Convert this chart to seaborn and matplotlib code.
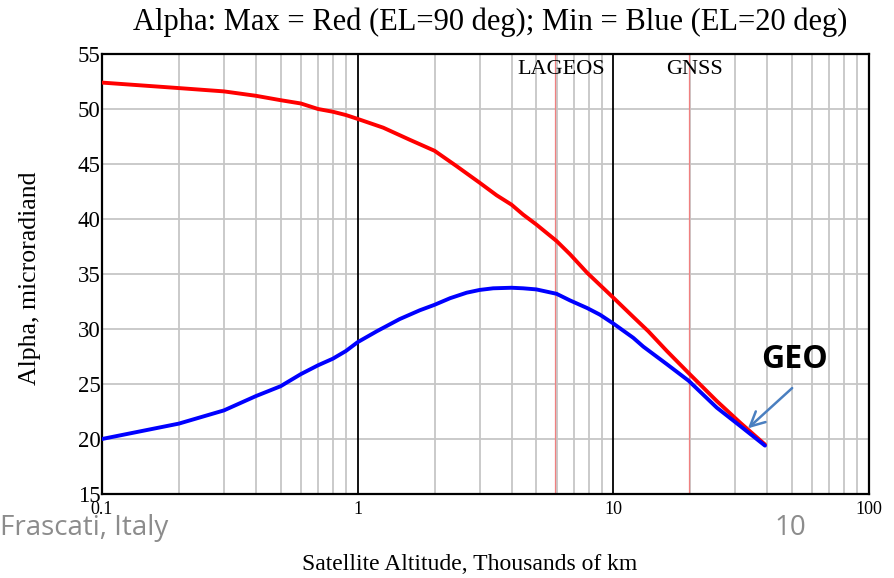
import numpy as np
import pandas as pd
import seaborn as sns
import matplotlib.pyplot as plt
from matplotlib.ticker import LogLocator, NullFormatter, FixedLocator, FixedFormatter

# altitude in thousands of km
alt_red = [0.1, 0.2, 0.3, 0.4, 0.5, 0.6, 0.7, 0.8, 0.9, 1, 1.26, 1.6, 2, 2.44, 3, 3.5, 4, 4.44, 5, 6,
           6.77, 7.91, 8.87, 10, 11.97, 13.7, 16.2, 19.7, 25.4, 31.3, 39.2]
alpha_max = [52.4, 51.9, 51.6, 51.2, 50.8, 50.5, 50.0, 49.75, 49.45, 49.1, 48.3, 47.2, 46.2, 44.8, 43.3, 42.15, 41.3, 40.4, 39.5, 38.0,
             36.8, 35.1, 34.0, 32.85, 31.1, 29.8, 28.0, 26.0, 23.45, 21.5, 19.5]
alt_blue = [0.1, 0.2, 0.3, 0.4, 0.5, 0.6, 0.7, 0.8, 0.9, 1, 1.19, 1.46, 1.75, 2, 2.3, 2.67, 3, 3.39, 4, 4.44, 5, 6,
            6.77, 7.91, 8.87, 10, 11.97, 13.1, 16.2, 19.7, 25.4, 31.3, 39.2]
alpha_min = [20.0, 21.4, 22.6, 23.9, 24.8, 25.9, 26.7, 27.3, 28.0, 28.8, 29.8, 30.9, 31.7, 32.2, 32.8, 33.3, 33.55, 33.7, 33.75, 33.7, 33.6, 33.2,
             32.6, 31.9, 31.3, 30.5, 29.2, 28.4, 26.8, 25.3, 22.85, 21.2, 19.4]

markers = {"LAGEOS": 5.9, "GNSS": 19.8}
geo_alt = 33.0
geo_alpha = 20.8

df = pd.concat([
    pd.DataFrame({"alt": alt_red, "alpha": alpha_max, "curve": "max"}),
    pd.DataFrame({"alt": alt_blue, "alpha": alpha_min, "curve": "min"}),
])

sns.set_theme(style="white")
plt.rcParams['font.family'] = ['Liberation Serif', 'DejaVu Serif']
plt.rcParams.update({"text.color": "black", "axes.labelcolor": "black",
                     "xtick.color": "black", "ytick.color": "black"})

fig = plt.figure(figsize=(8.94, 5.78), dpi=100)
ax = fig.add_axes([0.114, 0.1453, 0.858, 0.7613])

ax.set_xscale("log")
ax.set_xlim(0.1, 100)
ax.set_ylim(15, 55)

# grid
ax.xaxis.set_major_locator(FixedLocator([0.1, 1, 10, 100]))
ax.xaxis.set_minor_locator(LogLocator(base=10, subs=np.arange(2, 10)))
ax.xaxis.set_minor_formatter(NullFormatter())
ax.grid(which="minor", axis="x", color="#c6c6c6", lw=1.3)
ax.set_yticks(range(15, 56, 5))
ax.grid(which="major", axis="y", color="#c6c6c6", lw=1.3)
for v in [1, 10]:
    ax.axvline(v, color="black", lw=1.3, zorder=1)
for name, v in markers.items():
    ax.axvline(v, color="#f08080", lw=0.9, zorder=1)

sns.lineplot(data=df, x="alt", y="alpha", hue="curve", palette={"max": "#ff0000", "min": "#0000ff"},
             lw=2.8, legend=False, ax=ax, zorder=3)

ax.text(6.24, 53.6, "LAGEOS", ha="center", va="center", fontsize=16)
ax.text(20.8, 53.6, "GNSS", ha="center", va="center", fontsize=16)

ax.annotate("", xy=(geo_alt, geo_alpha), xytext=(51, 24.8),
            arrowprops=dict(arrowstyle="->", color="#4a7fc0", lw=1.8, mutation_scale=26))
ax.text(51, 27.2, "GEO", fontsize=23, fontweight="bold", color="black",
        family=["Open Sans", "DejaVu Sans"], ha="center", va="center")

for s in ax.spines.values():
    s.set_color("black")
    s.set_linewidth(1.6)

ax.tick_params(axis="y", labelsize=16.5, pad=1, length=0)
ax.tick_params(axis="x", which="both", length=0)
ax.xaxis.set_major_formatter(FixedFormatter(["0.1", "1", "10", "100"]))
ax.tick_params(axis="x", labelsize=13, pad=5)

ax.set_xlabel("Satellite Altitude, Thousands of km", fontsize=17)
ax.xaxis.set_label_coords(0.48, -0.161)
ax.xaxis.label.set_va("center")
ax.set_ylabel("Alpha, microradiand", fontsize=18.5)
ax.yaxis.set_label_coords(-0.094, 0.49)
ax.yaxis.label.set_va("center")

fig.text(0.548, 0.962, "Alpha: Max = Red (EL=90 deg); Min = Blue (EL=20 deg)",
         ha="center", va="center", fontsize=22)

fig.text(0.0, 0.087, "Frascati, Italy", color="#8c8c8c", fontsize=20,
         family=["Open Sans", "DejaVu Sans"], ha="left", va="center")
fig.text(0.884, 0.087, "10", color="#8c8c8c", fontsize=20,
         family=["Open Sans", "DejaVu Sans"], ha="center", va="center")

fig.savefig("out.png", dpi=100)
